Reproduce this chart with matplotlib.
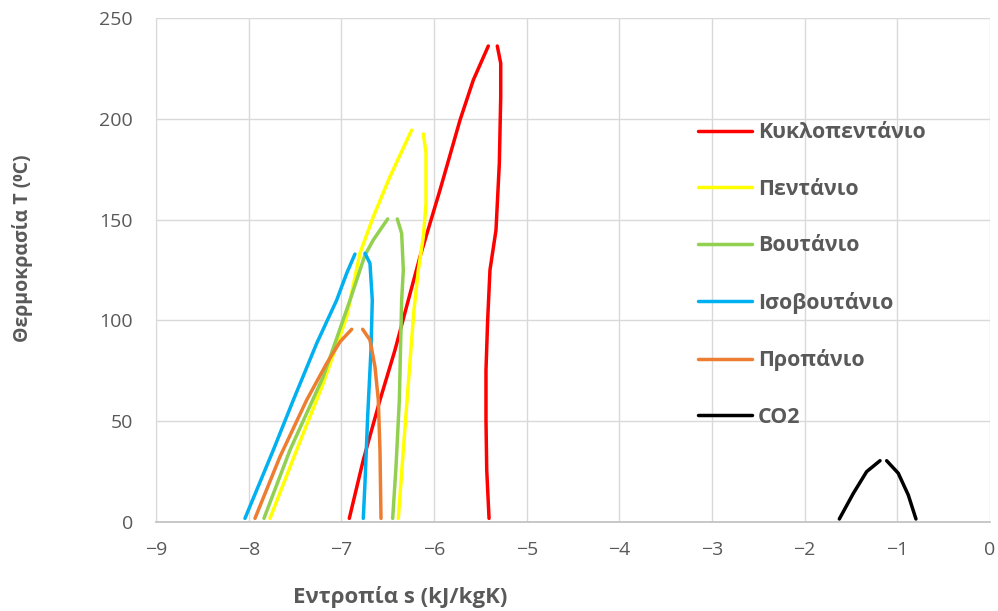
"""T-s saturation domes of ORC working fluids and CO2."""
import matplotlib.pyplot as plt

# liquid and vapour branches: entropy (kJ/kgK) and temperature (degC)
cyclopentane_liq_s = [-6.914, -6.763, -6.583, -6.421, -6.277, -6.151, -5.935, -5.719, -5.576, -5.414]
cyclopentane_liq_t = [1.8, 30.8, 60.5, 85.3, 110.1, 131.6, 164.7, 199.4, 219.2, 236.1]
cyclopentane_vap_s = [-5.317, -5.28, -5.28, -5.295, -5.331, -5.396, -5.421, -5.439, -5.439, -5.431, -5.406]
cyclopentane_vap_t = [236.1, 227.5, 211.0, 177.9, 144.8, 125.0, 100.2, 75.4, 50.6, 25.8, 1.8]

pentane_liq_s = [-7.77, -7.482, -7.195, -6.942, -6.799, -6.655, -6.475, -6.241]
pentane_liq_t = [1.8, 35.7, 68.8, 101.8, 133.3, 151.4, 171.3, 194.4]
pentane_vap_s = [-6.115, -6.086, -6.086, -6.115, -6.169, -6.216, -6.277, -6.331, -6.385]
pentane_vap_t = [192.5, 182.9, 158.1, 141.5, 125.0, 105.2, 68.8, 35.7, 1.8]

butane_liq_s = [-7.835, -7.554, -7.195, -6.906, -6.745, -6.655, -6.5]
butane_liq_t = [1.8, 35.7, 72.1, 110.1, 132.4, 139.9, 150.3]
butane_vap_s = [-6.396, -6.349, -6.331, -6.349, -6.374, -6.41, -6.446]
butane_vap_t = [150.3, 143.2, 125.0, 110.1, 60.5, 27.4, 1.8]

isobutane_liq_s = [-8.04, -7.734, -7.518, -7.266, -7.05, -6.942, -6.853]
isobutane_liq_t = [1.8, 35.7, 60.5, 88.6, 110.1, 123.4, 132.9]
isobutane_vap_s = [-6.745, -6.691, -6.666, -6.68, -6.716, -6.745, -6.763]
isobutane_vap_t = [133.3, 128.3, 110.1, 85.3, 52.2, 19.2, 1.8]

propane_liq_s = [-7.932, -7.662, -7.374, -7.158, -7.014, -6.888]
propane_liq_t = [1.8, 32.4, 60.5, 78.7, 89.4, 95.6]
propane_vap_s = [-6.77, -6.691, -6.637, -6.601, -6.583, -6.572]
propane_vap_t = [95.6, 90.3, 77.0, 60.5, 35.7, 1.8]

co2_liq_s = [-1.626, -1.475, -1.331, -1.187]
co2_liq_t = [1.5, 14.2, 25.0, 30.4]
co2_vap_s = [-1.115, -0.99, -0.882, -0.799]
co2_vap_t = [30.4, 24.2, 13.4, 1.5]

series = [
    ("Κυκλοπεντάνιο", "#FF0000", cyclopentane_liq_s, cyclopentane_liq_t, cyclopentane_vap_s, cyclopentane_vap_t),
    ("Πεντάνιο", "#FFFF00", pentane_liq_s, pentane_liq_t, pentane_vap_s, pentane_vap_t),
    ("Βουτάνιο", "#92D050", butane_liq_s, butane_liq_t, butane_vap_s, butane_vap_t),
    ("Ισοβουτάνιο", "#00B0F0", isobutane_liq_s, isobutane_liq_t, isobutane_vap_s, isobutane_vap_t),
    ("Προπάνιο", "#ED7D31", propane_liq_s, propane_liq_t, propane_vap_s, propane_vap_t),
    ("CO2", "#000000", co2_liq_s, co2_liq_t, co2_vap_s, co2_vap_t),
]

FONT = ["Open Sans", "DejaVu Sans"]
GREY = "#595959"
plt.rcParams["font.family"] = FONT

fig = plt.figure(figsize=(9.98, 6.11), dpi=100)
ax = fig.add_axes([156 / 998, 1 - 522 / 611, 834 / 998, 504 / 611])

for name, color, ls, lt, vs, vt in series:
    ax.plot(ls, lt, color=color, lw=2.5, solid_capstyle="round",
            solid_joinstyle="round", label=name)
    ax.plot(vs, vt, color=color, lw=2.5, solid_capstyle="round",
            solid_joinstyle="round")

ax.set_xlim(-9, 0)
ax.set_ylim(0, 250)
ax.set_xticks(range(-9, 1))
ax.set_yticks(range(0, 251, 50))
ax.grid(True, color="#d9d9d9", lw=1)
ax.set_axisbelow(True)
ax.tick_params(length=0, labelsize=14, labelcolor=GREY)
ax.tick_params(axis="x", pad=14)
ax.tick_params(axis="y", pad=16.5)
for side in ("top", "right"):
    ax.spines[side].set_visible(False)
ax.spines["left"].set_color("#d9d9d9")
ax.spines["bottom"].set_color("#bfbfbf")
ax.spines["bottom"].set_linewidth(1.2)

handles, labels = ax.get_legend_handles_labels()
ax.legend(handles, labels, loc="upper left", bbox_to_anchor=(0.650, 0.7930),
          frameon=False, borderpad=0, borderaxespad=0, handlelength=2.5,
          handletextpad=0.29, labelspacing=1.66,
          prop={"family": FONT, "weight": "bold", "size": 15.4},
          labelcolor=GREY)

fig.text(400 / 998, 1 - 597 / 611, "Εντροπία s (kJ/kgK)", ha="center", va="center",
         fontsize=16, fontweight="bold", color=GREY)
fig.text(23 / 998, 1 - 248 / 611, "Θερμοκρασία T (⁰C)", ha="center", va="center",
         rotation=90, fontsize=14, fontweight="bold", color=GREY)

fig.savefig("out.png", dpi=100)
